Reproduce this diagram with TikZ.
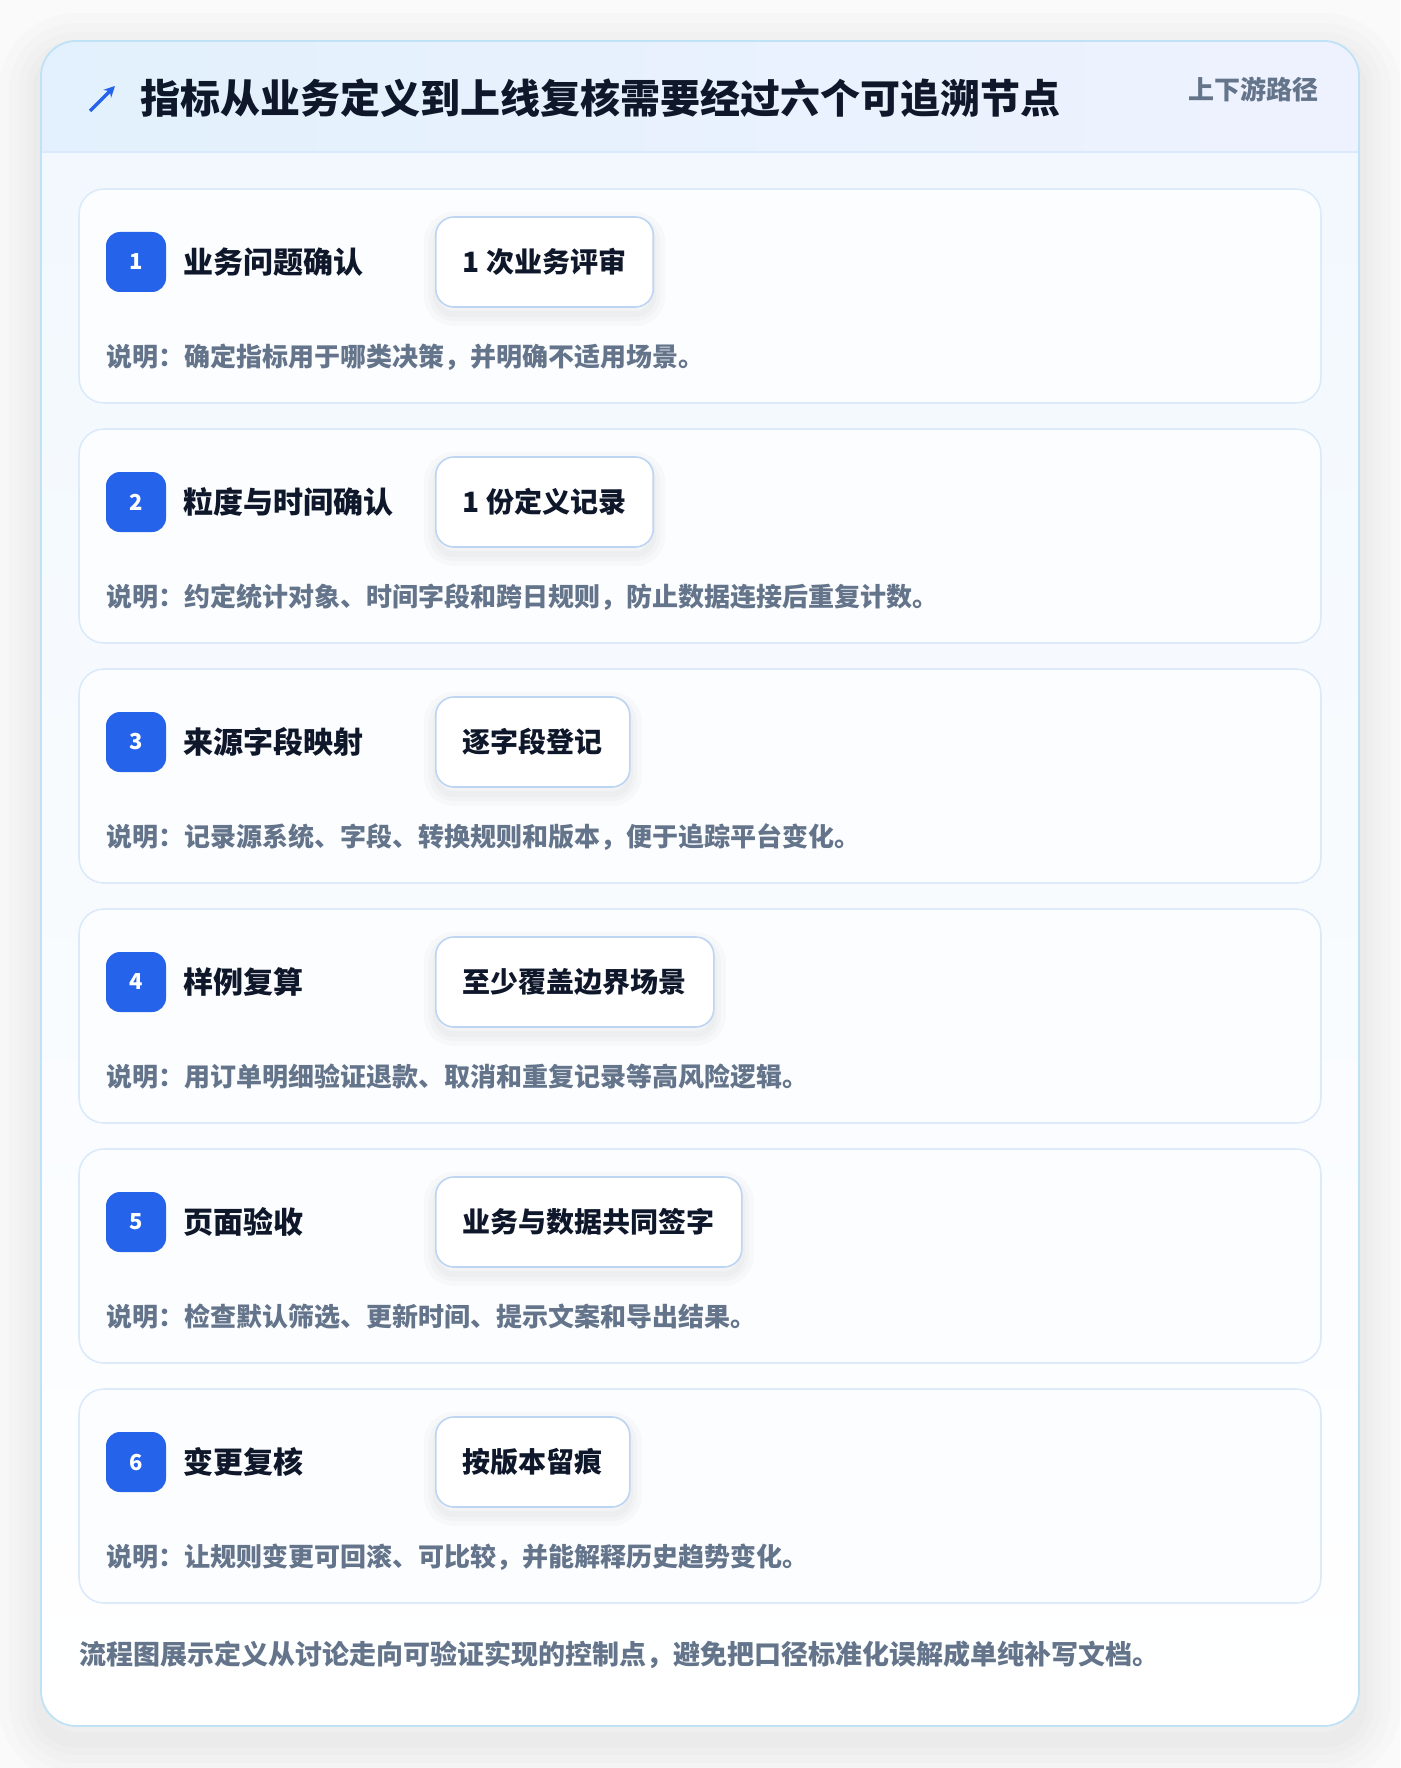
\documentclass[tikz,border=0pt]{standalone}
\usepackage{fontspec}
\usepackage{xcolor}
\usepackage{tikz}
\setmainfont{Noto Sans CJK SC}
\usetikzlibrary{positioning,calc,arrows.meta}

\definecolor{accent}{HTML}{2563EB}
\definecolor{ink}{HTML}{0F172A}
\definecolor{muted}{HTML}{64748B}
\definecolor{frameline}{HTML}{BFE2F7}
\definecolor{headleft}{HTML}{E2F1FD}
\definecolor{headright}{HTML}{EEF2FE}
\definecolor{headline}{HTML}{D8EAFB}
\definecolor{bodytop}{HTML}{F2F8FE}
\definecolor{cardfill}{HTML}{FCFDFF}
\definecolor{cardline}{HTML}{DCEAFA}
\definecolor{tagline}{HTML}{BDD5F3}

\begin{document}
\begin{tikzpicture}[x=1pt,y=-1pt,
    headtitle/.style={anchor=west,inner sep=0pt,text=ink,font=\fontsize{40}{48}\selectfont\bfseries},
    sidelabel/.style={anchor=east,inner sep=0pt,text=muted,font=\fontsize{26}{30}\selectfont\bfseries},
    softshadow/.style={preaction={draw=black,draw opacity=0.012,line width=#1,transform canvas={yshift=-14pt}}},
    tagshadow/.style={preaction={draw=black,draw opacity=0.018,line width=#1,transform canvas={yshift=-7pt}}},
    stepcard/.style={draw=cardline,line width=1.6pt,fill=cardfill,rounded corners=25pt,
        minimum width=1242pt,minimum height=214pt},
    numbadge/.style={fill=accent,rounded corners=14pt,minimum size=60pt,inner sep=0pt,
        text=white,font=\fontsize{22}{26}\selectfont\bfseries},
    stepname/.style={anchor=west,inner sep=0pt,text=ink,font=\fontsize{30}{36}\selectfont\bfseries},
    steptag/.style={anchor=west,draw=tagline,line width=1.6pt,fill=white,rounded corners=18pt,
        minimum height=90pt,inner xsep=27pt,text=ink,font=\fontsize{28}{34}\selectfont\bfseries,
        tagshadow=24pt,tagshadow=14pt,tagshadow=6pt},
    stepnote/.style={anchor=west,inner sep=0pt,text=muted,font=\fontsize{26}{32}\selectfont\bfseries},
    footnote/.style={anchor=west,inner sep=0pt,text=muted,font=\fontsize{27}{32}\selectfont\bfseries}]
    \useasboundingbox (0,0) rectangle (1400,1768);
    \fill[white!98!black] (0,0) rectangle (1400,1768);

    % Outer panel with shadow
    \fill[white,rounded corners=35pt,softshadow=84pt,softshadow=64pt,softshadow=46pt,
        softshadow=30pt,softshadow=16pt]
        (41,41) rectangle (1359,1726);
    \begin{scope}
        \clip[rounded corners=35pt] (41,41) rectangle (1359,1726);
        \shade[left color=headleft,right color=headright] (41,41) rectangle (1359,152);
        \shade[top color=bodytop,bottom color=white] (41,152) rectangle (1359,1726);
    \end{scope}
    \draw[headline,line width=1.6pt] (42,152) -- (1358,152);
    \draw[frameline,line width=1.8pt,rounded corners=35pt] (41,41) rectangle (1359,1726);

    % Header
    \coordinate (tail) at (90,111);
    \coordinate (tip) at (115,86);
    \draw[accent,line width=3.2pt,-{Stealth[length=11pt,width=11pt]}] (tail) -- (tip);
    \node[headtitle] (title) at (140,98) {指标从业务定义到上线复核需要经过六个可追溯节点};
    \node[sidelabel] (route) at (1319,89) {上下游路径};

    % Step 1
    \node[stepcard] (card1) at (700,296) {};
    \node[numbadge] (num1) at (136,262) {1};
    \node[stepname,right=17pt of num1] (name1) {业务问题确认};
    \node[steptag] (tag1) at (435,262) {1 次业务评审};
    \node[stepnote] (note1) at (106,357) {说明：确定指标用于哪类决策，并明确不适用场景。};

    % Step 2
    \node[stepcard] (card2) at (700,536) {};
    \node[numbadge] (num2) at (136,502) {2};
    \node[stepname,right=17pt of num2] (name2) {粒度与时间确认};
    \node[steptag] (tag2) at (435,502) {1 份定义记录};
    \node[stepnote] (note2) at (106,597) {说明：约定统计对象、时间字段和跨日规则，防止数据连接后重复计数。};

    % Step 3
    \node[stepcard] (card3) at (700,776) {};
    \node[numbadge] (num3) at (136,742) {3};
    \node[stepname,right=17pt of num3] (name3) {来源字段映射};
    \node[steptag] (tag3) at (435,742) {逐字段登记};
    \node[stepnote] (note3) at (106,837) {说明：记录源系统、字段、转换规则和版本，便于追踪平台变化。};

    % Step 4
    \node[stepcard] (card4) at (700,1016) {};
    \node[numbadge] (num4) at (136,982) {4};
    \node[stepname,right=17pt of num4] (name4) {样例复算};
    \node[steptag] (tag4) at (435,982) {至少覆盖边界场景};
    \node[stepnote] (note4) at (106,1077) {说明：用订单明细验证退款、取消和重复记录等高风险逻辑。};

    % Step 5
    \node[stepcard] (card5) at (700,1256) {};
    \node[numbadge] (num5) at (136,1222) {5};
    \node[stepname,right=17pt of num5] (name5) {页面验收};
    \node[steptag] (tag5) at (435,1222) {业务与数据共同签字};
    \node[stepnote] (note5) at (106,1317) {说明：检查默认筛选、更新时间、提示文案和导出结果。};

    % Step 6
    \node[stepcard] (card6) at (700,1496) {};
    \node[numbadge] (num6) at (136,1462) {6};
    \node[stepname,right=17pt of num6] (name6) {变更复核};
    \node[steptag] (tag6) at (435,1462) {按版本留痕};
    \node[stepnote] (note6) at (106,1557) {说明：让规则变更可回滚、可比较，并能解释历史趋势变化。};

    % Footnote
    \node[footnote] (summary) at (79,1655) {流程图展示定义从讨论走向可验证实现的控制点，避免把口径标准化误解成单纯补写文档。};
\end{tikzpicture}
\end{document}
